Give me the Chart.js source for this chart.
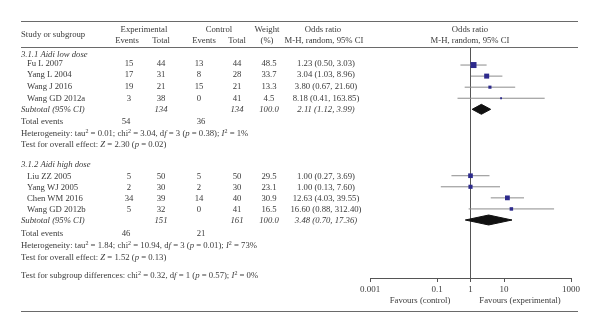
<!DOCTYPE html>
<html>
<head>
<meta charset="utf-8">
<script src="https://cdn.jsdelivr.net/npm/chart.js@4.4.1/dist/chart.umd.min.js"></script>
<style>
  html, body { margin: 0; padding: 0; background: #fff; }
  #wrap { position: relative; width: 600px; height: 333px; overflow: hidden; font-family: 'Liberation Serif', 'DejaVu Serif', serif; font-size: 8.7px; color: #3a3a3a; }
  #plot { position: absolute; left: 0; top: 0; }
  .t { position: absolute; white-space: nowrap; line-height: 1; }
  .c { transform: translate(-50%, -50%); }
  .l { transform: translate(0, -50%); }
  .rule { position: absolute; left: 21px; width: 557px; height: 1px; background: #6a6a6a; }
  sup { font-size: 6px; vertical-align: 3px; line-height: 0; }
</style>
</head>
<body>
<div id="wrap">
  <canvas id="plot" width="600" height="333"></canvas>
</div>
<script>
// studies
const studies = ['Fu L 2007', 'Yang L 2004', 'Wang J 2016', 'Wang GD 2012a', 'Liu ZZ 2005', 'Yang WJ 2005', 'Chen WM 2016', 'Wang GD 2012b'];
const studyRows = [0, 1, 2, 3, 10, 11, 12, 13];
const expEvents = [15, 17, 19, 3, 5, 2, 34, 5];
const expTotal = [44, 31, 21, 38, 50, 30, 39, 32];
const ctlEvents = [13, 8, 15, 0, 5, 2, 14, 0];
const ctlTotal = [44, 28, 21, 41, 50, 30, 40, 41];
const weights = [48.5, 33.7, 13.3, 4.5, 29.5, 23.1, 30.9, 16.5];
const oddsRatio = [1.23, 3.04, 3.80, 8.18, 1.00, 1.00, 12.63, 16.60];
const ciLow = [0.50, 1.03, 0.67, 0.41, 0.27, 0.13, 4.03, 0.88];
const ciHigh = [3.03, 8.96, 21.60, 163.85, 3.69, 7.60, 39.55, 312.40];

// subgroups
const groupNames = ['3.1.1 Aidi low dose', '3.1.2 Aidi high dose'];
const groupRows = [4, 14];
const subExpTotal = [134, 151];
const subCtlTotal = [134, 161];
const subOR = [2.11, 3.48];
const subLow = [1.12, 0.70];
const subHigh = [3.99, 17.36];
const totalExpEvents = [54, 46];
const totalCtlEvents = [36, 21];
const tau2 = ['0.01', '1.84'];
const chi2 = ['3.04', '10.94'];
const hetDf = [3, 3];
const hetP = ['0.38', '0.01'];
const hetI2 = [1, 73];
const overallZ = ['2.30', '1.52'];
const overallP = ['0.02', '0.13'];

const subgroupTest = { chi2: '0.32', df: 1, p: '0.57', i2: 0 };
const xTicks = [0.001, 0.1, 1, 10, 1000];

const SQUARE = '#2d2a8c';
const CI_LINE = '#8c8c8c';

const wrap = document.getElementById('wrap');

function put(html, x, y, align) {
  const el = document.createElement('span');
  el.className = 't ' + (align || 'c');
  el.style.left = x + 'px';
  el.style.top = y + 'px';
  el.innerHTML = html;
  wrap.appendChild(el);
}

function rule(y) {
  const el = document.createElement('div');
  el.className = 'rule';
  el.style.top = y + 'px';
  wrap.appendChild(el);
}

const fmt = v => v.toFixed(2);
const ciText = (o, lo, hi) => `${fmt(o)} (${fmt(lo)}, ${fmt(hi)})`;

// column centres
const COL = { name: 21, indent: 27, expE: 129, expT: 161, ctlE: 199, ctlT: 237, w: 269, or: 326, plot: 470 };

rule(21);
rule(47);
rule(311);

// header
put('Study or subgroup', COL.name, 34, 'l');
put('Experimental', 144, 29);
put('Events', 127, 40);
put('Total', 161, 40);
put('Control', 219, 29);
put('Events', 204, 40);
put('Total', 237, 40);
put('Weight', 267, 29);
put('(%)', 267, 40);
put('Odds ratio', 323, 29);
put('M-H, random, 95% CI', 324, 40);
put('Odds ratio', COL.plot, 29);
put('M-H, random, 95% CI', COL.plot, 40);

// text rows (y positions per group)
const groupHeadY = [53.5, 163.5];
const studyTextY = [62.5, 74, 86, 98, 176, 187, 197.5, 208.5];
const subY = [108.5, 220];
const totY = [121, 233];
const hetY = [132.5, 245];
const testY = [144, 257];

groupNames.forEach((g, i) => put(`<i>${g}</i>`, COL.name, groupHeadY[i], 'l'));

studies.forEach((s, i) => {
  const y = studyTextY[i];
  put(s, COL.indent, y, 'l');
  put(expEvents[i], COL.expE, y);
  put(expTotal[i], COL.expT, y);
  put(ctlEvents[i], COL.ctlE, y);
  put(ctlTotal[i], COL.ctlT, y);
  put(weights[i].toFixed(1), COL.w, y);
  put(ciText(oddsRatio[i], ciLow[i], ciHigh[i]), COL.or, y);
});

groupNames.forEach((g, i) => {
  put('<i>Subtotal (95% CI)</i>', COL.name, subY[i], 'l');
  put(`<i>${subExpTotal[i]}</i>`, COL.expT, subY[i]);
  put(`<i>${subCtlTotal[i]}</i>`, COL.ctlT, subY[i]);
  put('<i>100.0</i>', COL.w, subY[i]);
  put(`<i>${ciText(subOR[i], subLow[i], subHigh[i])}</i>`, COL.or, subY[i]);
  put('Total events', COL.name, totY[i], 'l');
  put(totalExpEvents[i], COL.expE - 3, totY[i]);
  put(totalCtlEvents[i], COL.ctlE + 2, totY[i]);
  put(`Heterogeneity: tau<sup>2</sup> = ${tau2[i]}; chi<sup>2</sup> = ${chi2[i]}, d<i>f</i> = ${hetDf[i]} (<i>p</i> = ${hetP[i]}); <i>I</i><sup>2</sup> = ${hetI2[i]}%`, COL.name, hetY[i], 'l');
  put(`Test for overall effect: <i>Z</i> = ${overallZ[i]} (<i>p</i> = ${overallP[i]})`, COL.name, testY[i], 'l');
});

put(`Test for subgroup differences: chi<sup>2</sup> = ${subgroupTest.chi2}, d<i>f</i> = ${subgroupTest.df} (<i>p</i> = ${subgroupTest.p}); <i>I</i><sup>2</sup> = ${subgroupTest.i2}%`, COL.name, 275, 'l');

put('Favours (control)', 420, 300);
put('Favours (experimental)', 520, 300);

// plot
const Y_MIN = -1.63, Y_MAX = 19.24;
const DIAMOND_H = 0.45;

const squareData = studies.map((s, i) => ({ x: oddsRatio[i], y: studyRows[i] }));
const squareRadius = weights.map(w => 0.86 * Math.sqrt(w) / Math.SQRT2);

const ciSets = studies.map((s, i) => ({
  data: [{ x: ciLow[i], y: studyRows[i] }, { x: ciHigh[i], y: studyRows[i] }],
  showLine: true,
  borderColor: CI_LINE,
  borderWidth: 1,
  pointRadius: 0,
  order: 2
}));

const diamondSets = groupNames.map((g, i) => ({
  data: [
    { x: subLow[i], y: groupRows[i] },
    { x: subOR[i], y: groupRows[i] - DIAMOND_H },
    { x: subHigh[i], y: groupRows[i] },
    { x: subOR[i], y: groupRows[i] + DIAMOND_H },
    { x: subLow[i], y: groupRows[i] }
  ],
  showLine: true,
  fill: 'shape',
  backgroundColor: '#111',
  borderColor: '#111',
  borderWidth: 1,
  pointRadius: 0,
  tension: 0,
  order: 1
}));

new Chart(document.getElementById('plot'), {
  type: 'scatter',
  data: {
    datasets: [
      {
        data: squareData,
        pointStyle: 'rect',
        pointRadius: squareRadius,
        backgroundColor: SQUARE,
        borderColor: SQUARE,
        pointBorderWidth: 0,
        order: 0
      },
      ...diamondSets,
      ...ciSets,
      {
        data: [{ x: 1, y: Y_MIN }, { x: 1, y: Y_MAX }],
        showLine: true,
        borderColor: '#555',
        borderWidth: 1,
        pointRadius: 0,
        order: 3
      }
    ]
  },
  options: {
    responsive: false,
    animation: false,
    events: [],
    layout: { padding: { left: 370, right: 29, top: 47, bottom: 15 } },
    plugins: { legend: { display: false }, tooltip: { enabled: false } },
    scales: {
      x: {
        type: 'logarithmic',
        min: 0.001,
        max: 1000,
        afterBuildTicks: scale => { scale.ticks = xTicks.map(v => ({ value: v })); },
        afterFit: scale => { scale.height = 40; },
        grid: { drawOnChartArea: false, drawTicks: true, tickLength: 4, color: '#555' },
        border: { display: true, color: '#555', width: 1 },
        ticks: {
          autoSkip: false,
          maxRotation: 0,
          padding: 2,
          color: '#3a3a3a',
          font: { family: 'Liberation Serif', size: 9 },
          callback: v => String(v)
        }
      },
      y: { type: 'linear', reverse: true, min: Y_MIN, max: Y_MAX, display: false }
    }
  }
});
</script>
</body>
</html>
